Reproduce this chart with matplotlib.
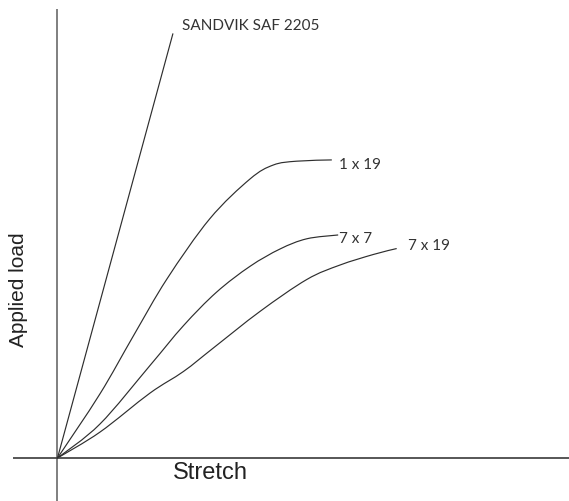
import numpy as np
import matplotlib
matplotlib.use("Agg")
import matplotlib.pyplot as plt
from matplotlib.path import Path
from matplotlib.patches import PathPatch

# ---- data (arbitrary units) ----
sandvik_stretch = [0.0, 27.2]
sandvik_load = [0.0, 100.0]

s1x19_stretch = [0, 10.0, 17.9, 25.8, 35.9, 45.4, 50.9, 56.4, 64.7]
s1x19_load = [0, 15.1, 28.8, 42.2, 56.4, 65.8, 69.1, 70.0, 70.3]

s7x7_stretch = [0, 10.0, 21.8, 29.7, 37.5, 45.4, 52.5, 58.8, 66.2]
s7x7_load = [0, 8.0, 21.8, 31.2, 39.1, 45.2, 49.3, 51.7, 52.6]

s7x19_stretch = [0, 10.0, 21.8, 29.7, 36.7, 47.8, 58.8, 66.6, 74.5, 80.0]
s7x19_load = [0, 6.1, 15.3, 20.4, 25.9, 34.6, 42.1, 45.5, 48.0, 49.4]

labels = ["SANDVIK SAF 2205", "1 x 19", "7 x 7", "7 x 19"]
label_x = [29.3, 66.3, 66.3, 82.7]
label_y = [101.2, 68.3, 51.0, 49.4]

x_title = "Stretch"
y_title = "Applied load"

LABEL_FONT = ["Lato", "DejaVu Sans"]
TITLE_FONT = ["Liberation Sans", "DejaVu Sans"]
CURVE_COLOR = "#2e2e2e"


def smooth_path(xs, ys):
    pts = np.column_stack([xs, ys]).astype(float)
    n = len(pts)
    verts = [pts[0]]
    codes = [Path.MOVETO]
    for i in range(n - 1):
        p0 = pts[i - 1] if i > 0 else pts[i]
        p1 = pts[i]
        p2 = pts[i + 1]
        p3 = pts[i + 2] if i + 2 < n else pts[i + 1]
        c1 = p1 + (p2 - p0) / 6.0
        c2 = p2 - (p3 - p1) / 6.0
        verts += [c1, c2, p2]
        codes += [Path.CURVE4] * 3
    return Path(verts, codes)


fig = plt.figure(figsize=(5.69, 5.02), dpi=100)
ax = fig.add_axes([0, 0, 1, 1])
ax.set_xlim(-13.56, 120.64)
ax.set_ylim(-10.14, 108.25)
ax.axis("off")

# axes lines
ax.plot([0, 0], [-10.14, 105.9], color="#6a6a6a", lw=1.2, solid_capstyle="butt")
ax.plot([-10.5, 120.64], [0, 0], color="#3a3a3a", lw=1.2, solid_capstyle="butt")

# curves
ax.plot(sandvik_stretch, sandvik_load, color=CURVE_COLOR, lw=0.85)
for xs, ys in [(s1x19_stretch, s1x19_load), (s7x7_stretch, s7x7_load), (s7x19_stretch, s7x19_load)]:
    ax.add_patch(PathPatch(smooth_path(xs, ys), fill=False, edgecolor=CURVE_COLOR, lw=0.85))

for t, x, y in zip(labels, label_x, label_y):
    ax.text(x, y, t, family=LABEL_FONT, fontsize=11, color="#333333",
            ha="left", va="baseline")

ax.text(36.0, -4.72, x_title, family=TITLE_FONT, fontsize=17, color="#222222",
        ha="center", va="baseline")
ax.text(-9.08, 40.0, y_title, family=TITLE_FONT, fontsize=15, color="#222222",
        ha="center", va="center", rotation=90)

fig.savefig("out.png", dpi=100)
